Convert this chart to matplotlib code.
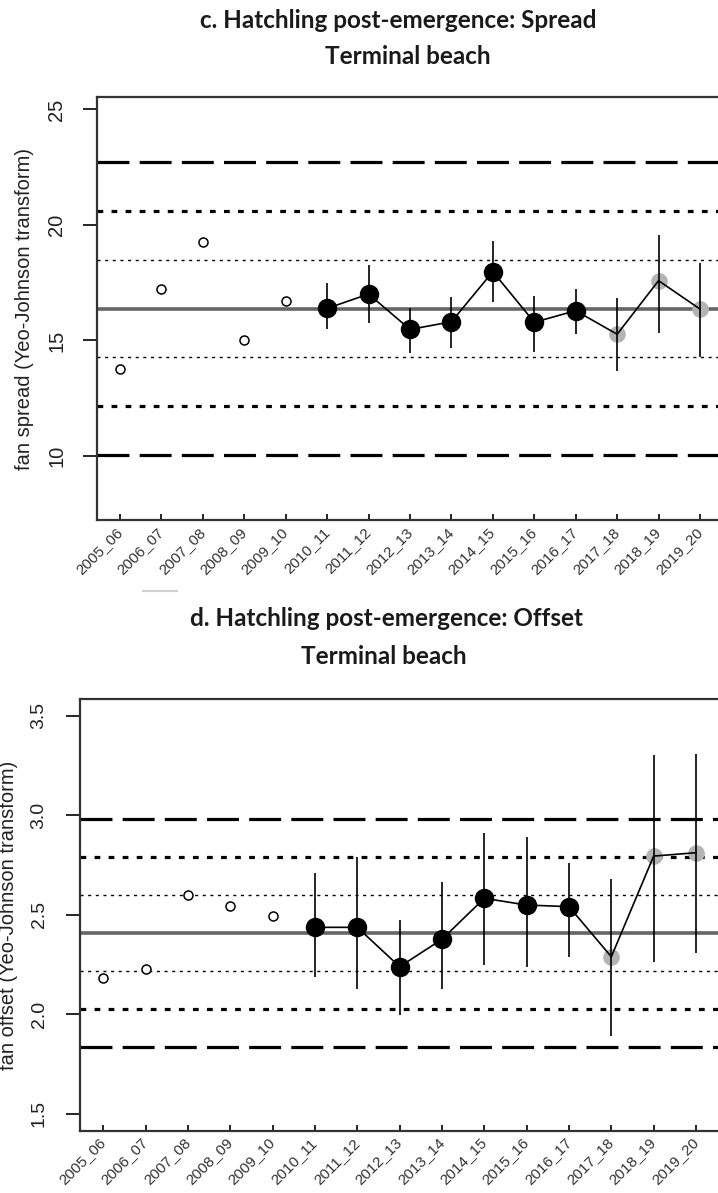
import numpy as np
import matplotlib.pyplot as plt
from matplotlib.lines import Line2D

plt.rcParams["font.family"] = ["Liberation Sans", "DejaVu Sans"]

seasons = ["2005_06", "2006_07", "2007_08", "2008_09", "2009_10", "2010_11",
           "2011_12", "2012_13", "2013_14", "2014_15", "2015_16", "2016_17",
           "2017_18", "2018_19", "2019_20"]

# baseline seasons (open circles)
spread_base = [13.75, 17.22, 19.25, 15.02, 16.71]
offset_base = [2.18, 2.23, 2.60, 2.546, 2.494]

# monitored seasons 2010_11 .. 2019_20: estimate, lower, upper
spread_est = [16.39, 17.01, 15.48, 15.81, 17.98, 15.79, 16.29, 15.27, 17.59, 16.36]
spread_lo = [15.49, 15.74, 14.45, 14.66, 16.65, 14.49, 15.27, 13.68, 15.34, 14.27]
spread_hi = [17.48, 18.27, 16.39, 16.87, 19.32, 16.94, 17.22, 16.83, 19.57, 18.37]

offset_est = [2.437, 2.437, 2.239, 2.377, 2.583, 2.549, 2.541, 2.289, 2.795, 2.812]
offset_lo = [2.189, 2.126, 1.997, 2.126, 2.248, 2.239, 2.289, 1.891, 2.264, 2.310]
offset_hi = [2.709, 2.790, 2.474, 2.666, 2.913, 2.889, 2.762, 2.678, 3.303, 3.308]

# last three seasons shown in grey (incomplete data)
grey_flag = [0, 0, 0, 0, 0, 0, 0, 1, 1, 1]

# control limits: mean and standard deviation of the baseline
spread_mean, spread_sd = 16.38, 2.11
offset_mean, offset_sd = 2.41, 0.191


def control_panel(ax, base, est, lo, hi, mean, sd, ylim, yticks, ylabel,
                  ylab_x, fs_tick, ypad):
    n = len(seasons)
    x = np.arange(1, n + 1)
    xb = x[:len(base)]
    xm = x[len(base):]
    est = np.array(est)
    grey = np.array(grey_flag, dtype=bool)

    # centre line and 1, 2, 3 sd limits
    ax.axhline(mean, color="#666666", lw=2.6, zorder=1)
    for k, ls in [(1, (0, (2.2, 3.3))), (2, (0, (1.8, 2.6))), (3, (0, (10, 3.2)))]:
        lw = {1: 1.0, 2: 2.3, 3: 2.3}[k]
        for s in (-1, 1):
            ax.axhline(mean + s * k * sd, color="black", lw=lw, ls=ls, zorder=1)

    ax.plot(xb, base, "o", ms=6.5, mfc="white", mec="black", mew=1.1, zorder=4)

    ax.plot(xm[grey], est[grey], "o", ms=12, color="#b4b4b4", mec="none", zorder=2)
    ax.vlines(xm, lo, hi, color="black", lw=1.2, zorder=3)
    ax.plot(xm, est, "-", color="black", lw=1.2, zorder=3)
    ax.plot(xm[~grey], est[~grey], "o", ms=13, color="black", zorder=4)

    ax.set_xlim(0.44, n + 0.56)
    ax.set_ylim(*ylim)
    ax.set_yticks(yticks)
    ax.set_yticklabels([f"{t:g}" if isinstance(t, int) else f"{t:.1f}" for t in yticks],
                       rotation=90, va="center", fontsize=fs_tick, color="#222222")
    ax.set_xticks(x)
    ax.set_xticklabels(seasons, rotation=45, ha="right", va="center",
                       rotation_mode="anchor", fontsize=11, color="#333333")
    ax.tick_params(axis="y", length=10, width=1.2, pad=ypad, direction="out")
    ax.tick_params(axis="x", length=4, width=1.2, pad=7, direction="in")
    for sp in ax.spines.values():
        sp.set_color("#333333")
        sp.set_linewidth(1.6)
    ax.set_ylabel(ylabel, fontsize=14.5, color="#222222")
    ax.yaxis.set_label_coords(ylab_x, 0.5)


fig = plt.figure(figsize=(7.18, 11.93), dpi=100)
W, H = 718.0, 1193.0

ax1 = fig.add_axes([96.8 / W, 1 - 520 / H, (723.2 - 96.8) / W, (520 - 97) / H])
control_panel(ax1, spread_base, spread_est, spread_lo, spread_hi,
              spread_mean, spread_sd, (7.23, 25.54), [10, 15, 20, 25],
              "fan spread (Yeo-Johnson transform)", -0.101, 14.5, 12)

ax2 = fig.add_axes([79.6 / W, 1 - 1130.7 / H, (719.7 - 79.6) / W, (1130.7 - 699.3) / H])
control_panel(ax2, offset_base, offset_est, offset_lo, offset_hi,
              offset_mean, offset_sd, (1.415, 3.583), [1.5, 2.0, 2.5, 3.0, 3.5],
              "fan offset (Yeo-Johnson transform)", -0.096, 14, 13)

title_kw = dict(ha="center", va="center", fontsize=17.5, fontweight="bold",
                family="Lato", color="#1a1a1a")
fig.text(398 / W, 1 - 20 / H, "c. Hatchling post-emergence: Spread", **title_kw)
fig.text(408 / W, 1 - 57 / H, "Terminal beach", **title_kw)
fig.text(386 / W, 1 - 618 / H, "d. Hatchling post-emergence: Offset", **title_kw)
fig.text(384 / W, 1 - 657 / H, "Terminal beach", **title_kw)

# faint rule left between the two panels
fig.add_artist(Line2D([143 / W, 177 / W], [1 - 591 / H, 1 - 591 / H],
                      color="#d0d0d0", lw=1.5))

fig.savefig("out.png", dpi=100)
